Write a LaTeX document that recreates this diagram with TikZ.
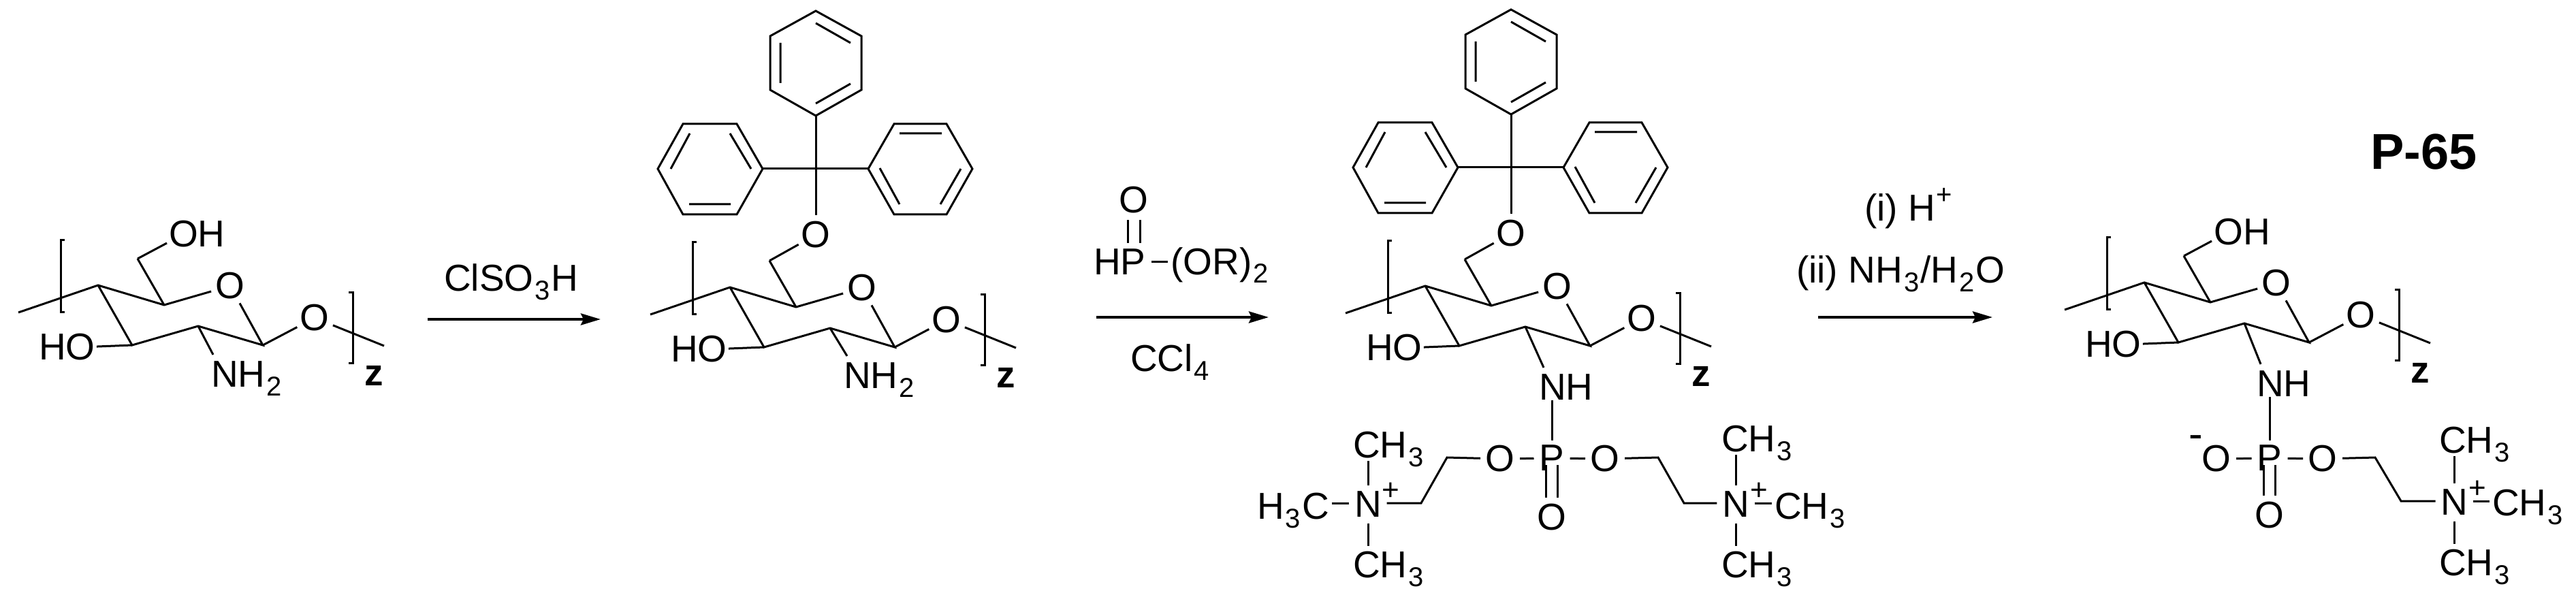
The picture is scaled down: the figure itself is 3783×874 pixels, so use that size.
\documentclass[tikz,border=0pt]{standalone}
\usepackage{fontspec}
\setmainfont{Liberation Sans}
\usetikzlibrary{arrows.meta}
\newcommand\chemfont{\fontsize{55}{60}\selectfont}
\newcommand\dn[1]{\kern2pt\raisebox{-13pt}{\fontsize{40}{44}\selectfont #1}\kern2pt}
\newcommand\upp[1]{\kern1pt\raisebox{25pt}{\fontsize{40}{44}\selectfont #1}}
\newcommand\sugar[3]{%
\begin{scope}[shift={(#2,#3)}]
\coordinate (#1tail) at (27,459);
\coordinate (#1c1) at (144,419);
\coordinate (#1c2) at (241,448);
\coordinate (#1c3) at (194,507);
\coordinate (#1c4) at (291,479);
\coordinate (#1c5) at (386,507);
\coordinate (#1c6) at (202,380);
\coordinate (#1end) at (564,508);
\node[atom] (#1ro) at (338,420) {O};
\node[atom] (#1go) at (462,467) {O};
\node[txt] (#1ho) at (61,528) {HO};
\node[txt,font=\chemfont\bfseries] (#1z) at (539,566) {z};
\draw[bond] (#1tail) -- (#1c1) -- (#1c2) -- (#1ro) -- (#1c5) -- (#1c4) -- (#1c3) -- (#1c1);
\draw[bond] (#1c2) -- (#1c6);
\draw[bond] (#1c3) -- ([xshift=2pt]#1ho.east);
\draw[bond] (#1c5) -- (#1go) -- (#1end);
\draw[bond] (95,353) -- (89,353) -- (89,458) -- (95,458);
\draw[bond] (512,429) -- (518,429) -- (518,533) -- (512,533);
\end{scope}}
\newcommand\trityl[3]{%
\begin{scope}[shift={(#2,#3)}]
\coordinate (#1top) at (1198,170);
\coordinate (#1lft) at (1120,248);
\coordinate (#1rgt) at (1275,248);
\node[atom] (#1to) at (1198,345) {O};
\draw[bond] (#1to) -- (#1top);
\draw[bond] (#1lft) -- (#1rgt);
\draw[bond] (1198,16) -- (1265,53) -- (1265,132) -- (#1top) -- (1131,132) -- (1131,53) -- cycle;
\draw[bond] (1198,34) -- (1249,63) (1146,63) -- (1146,122) (1198,152) -- (1249,123);
\draw[bond] (#1lft) -- (1082,182) -- (1003,182) -- (966,248) -- (1003,315) -- (1082,315) -- cycle;
\draw[bond] (1013,196) -- (985,248) (1072,196) -- (1103,248) (1012,300) -- (1073,300);
\draw[bond] (#1rgt) -- (1313,182) -- (1390,182) -- (1428,248) -- (1390,315) -- (1313,315) -- cycle;
\draw[bond] (1321,196) -- (1383,196) (1292,247) -- (1321,300) (1381,300) -- (1411,248);
\end{scope}}
\tikzset{
  x=1pt,y=-1pt,
  bond/.style={line width=3pt,line cap=butt},
  rxn/.style={line width=4pt,-{Stealth[length=29pt,width=17pt,inset=4pt]}},
  atom/.style={circle,inner sep=0pt,minimum size=54pt,font=\chemfont},
  natom/.style={circle,inner sep=0pt,minimum size=46pt,font=\chemfont},
  patom/.style={circle,inner sep=0pt,minimum size=43pt,font=\chemfont},
  txt/.style={anchor=base west,inner sep=0pt,xshift=-4pt,font=\chemfont},
  charge/.style={inner sep=0pt,font=\fontsize{44}{48}\selectfont},
}
\begin{document}
\begin{tikzpicture}
\useasboundingbox (0,0) rectangle (3783,874);
% molecule 1
\sugar{a}{0}{0}
\node[txt] (aoh) at (252,363) {OH};
\draw[bond] (ac6) -- ([xshift=-3pt,yshift=-13pt]aoh.west);
\node[txt] (anh) at (314,568) {NH\dn2};
\draw[bond] (ac4) -- ([xshift=3pt,yshift=9pt]anh.north west);
% arrow 1
\coordinate (s1) at (628,469);
\coordinate (e1) at (882,469);
\draw[rxn] (s1) -- (e1);
\node[txt] (r1) at (656,428) {ClSO\dn3H};
% molecule 2
\sugar{b}{928}{3}
\trityl{bt}{0}{0}
\draw[bond] (bc6) -- (btto);
\node[txt] (bnh) at (1243,570) {NH\dn2};
\draw[bond] (bc4) -- ([xshift=5pt,yshift=9pt]bnh.north west);
% reagents 2
\node[atom] (ro) at (1665,294) {O};
\node[txt] (hp) at (1610,403) {HP};
\node[txt] (orr) at (1723,403) {(OR)\dn2};
\draw[bond] ([xshift=-9pt]ro.south) -- ([xshift=-9pt,yshift=8pt]ro.south |- hp.north);
\draw[bond] ([xshift=9pt]ro.south) -- ([xshift=9pt,yshift=8pt]ro.south |- hp.north);
\draw[bond] ([xshift=8pt]hp.east) -- ([xshift=-4pt]hp.east -| orr.west);
\coordinate (s2) at (1610,466);
\coordinate (e2) at (1863,466);
\draw[rxn] (s2) -- (e2);
\node[txt] (ccl) at (1664,545) {CCl\dn4};
% molecule 3
\sugar{c}{1949}{1}
\trityl{ct}{1021}{-2}
\draw[bond] (cc6) -- (ctto);
\node[txt] (cnh) at (2264,587) {NH};
\draw[bond] (cc4) -- ([xshift=7pt,yshift=9pt]cnh.north west);
\node[patom] (cp) at (2279,673) {P};
\node[atom] (col) at (2203,674) {O};
\node[atom] (cor) at (2357,674) {O};
\node[atom] (cod) at (2279,760) {O};
\draw[bond] ([yshift=-1pt]cnh.south west -| cp) -- ([yshift=26pt]cp.center);
\draw[bond] (col) -- (cp) -- (cor);
\draw[bond] ([xshift=-8.5pt,yshift=-10pt]cp.center) -- ([xshift=-8.5pt]cod.north);
\draw[bond] ([xshift=8.5pt,yshift=-10pt]cp.center) -- ([xshift=8.5pt]cod.north);
\coordinate (cl1) at (2125,672);
\coordinate (cl2) at (2087,739);
\coordinate (cr1) at (2435,672);
\coordinate (cr2) at (2473,739);
\node[natom] (cn1) at (2009,741) {N};
\node[natom] (cn2) at (2549,741) {N};
\node[charge] (cp1) at (2042,722) {+};
\node[charge] (cp2) at (2583,722) {+};
\node[txt] (c1t) at (1991,672) {CH\dn3};
\node[txt] (c1b) at (1991,848) {CH\dn3};
\node[txt] (c1l) at (1850,762) {H\dn3C};
\node[txt] (c2t) at (2532,663) {CH\dn3};
\node[txt] (c2b) at (2532,848) {CH\dn3};
\node[txt] (c2r) at (2610,762) {CH\dn3};
\draw[bond] (col) -- (cl1) -- (cl2) -- (cl2 -| cn1.east);
\draw[bond] (cor) -- (cr1) -- (cr2) -- (cr2 -| cn2.west);
\draw[bond] (cn1.north) -- ([yshift=-5pt]cn1.north |- c1t.base);
\draw[bond] (cn1.south) -- ([yshift=46pt]cn1.south |- c1b.base);
\draw[bond] (cn2.north) -- ([yshift=-5pt]cn2.north |- c2t.base);
\draw[bond] (cn2.south) -- ([yshift=46pt]cn2.south |- c2b.base);
\draw[bond] (cl2 -| cn1.west) -- ([xshift=4pt]cl2 -| c1l.east);
\draw[bond] (cr2 -| cn2.east) -- ([xshift=-4pt]cr2 -| c2r.west);
% arrow 3
\node[txt] (r3a) at (2742,325) {(i) H\upp{+}};
\node[txt] (r3b) at (2642,416) {(ii) NH\dn3/H\dn2O};
\coordinate (s3) at (2670,466);
\coordinate (e3) at (2926,466);
\draw[rxn] (s3) -- (e3);
% molecule 4
\node[anchor=base west,inner sep=0pt,font=\fontsize{74}{80}\bfseries\selectfont] (title) at (3481,249) {P-65};
\sugar{d}{3005}{-4}
\node[txt] (doh) at (3255,360) {OH};
\draw[bond] (dc6) -- ([xshift=-3pt,yshift=-13pt]doh.west);
\node[txt] (dnh) at (3318,582) {NH};
\draw[bond] (dc4) -- ([xshift=6pt,yshift=9pt]dnh.north west);
\node[patom] (dp) at (3333,673) {P};
\node[atom] (dol) at (3255,674) {O};
\node[atom] (dor) at (3411,674) {O};
\node[atom] (dod) at (3333,757) {O};
\node[anchor=base,inner sep=0pt,font=\fontsize{62}{66}\selectfont] (dm) at (3225,658) {-};
\draw[bond] ([yshift=-1pt]dnh.south west -| dp) -- ([yshift=26pt]dp.center);
\draw[bond] (dol) -- (dp) -- (dor);
\draw[bond] ([xshift=-8.5pt,yshift=-10pt]dp.center) -- ([xshift=-8.5pt]dod.north);
\draw[bond] ([xshift=8.5pt,yshift=-10pt]dp.center) -- ([xshift=8.5pt]dod.north);
\coordinate (dl1) at (3488,672);
\coordinate (dl2) at (3526,736);
\node[natom] (dn) at (3604,738) {N};
\node[charge] (dpl) at (3638,719) {+};
\node[txt] (dct) at (3586,665) {CH\dn3};
\node[txt] (dcb) at (3586,845) {CH\dn3};
\node[txt] (dcr) at (3664,757) {CH\dn3};
\draw[bond] (dor) -- (dl1) -- (dl2) -- (dl2 -| dn.west);
\draw[bond] (dn.north) -- ([yshift=-5pt]dn.north |- dct.base);
\draw[bond] (dn.south) -- ([yshift=46pt]dn.south |- dcb.base);
\draw[bond] (dl2 -| dn.east) -- ([xshift=-4pt]dl2 -| dcr.west);
\end{tikzpicture}
\end{document}
